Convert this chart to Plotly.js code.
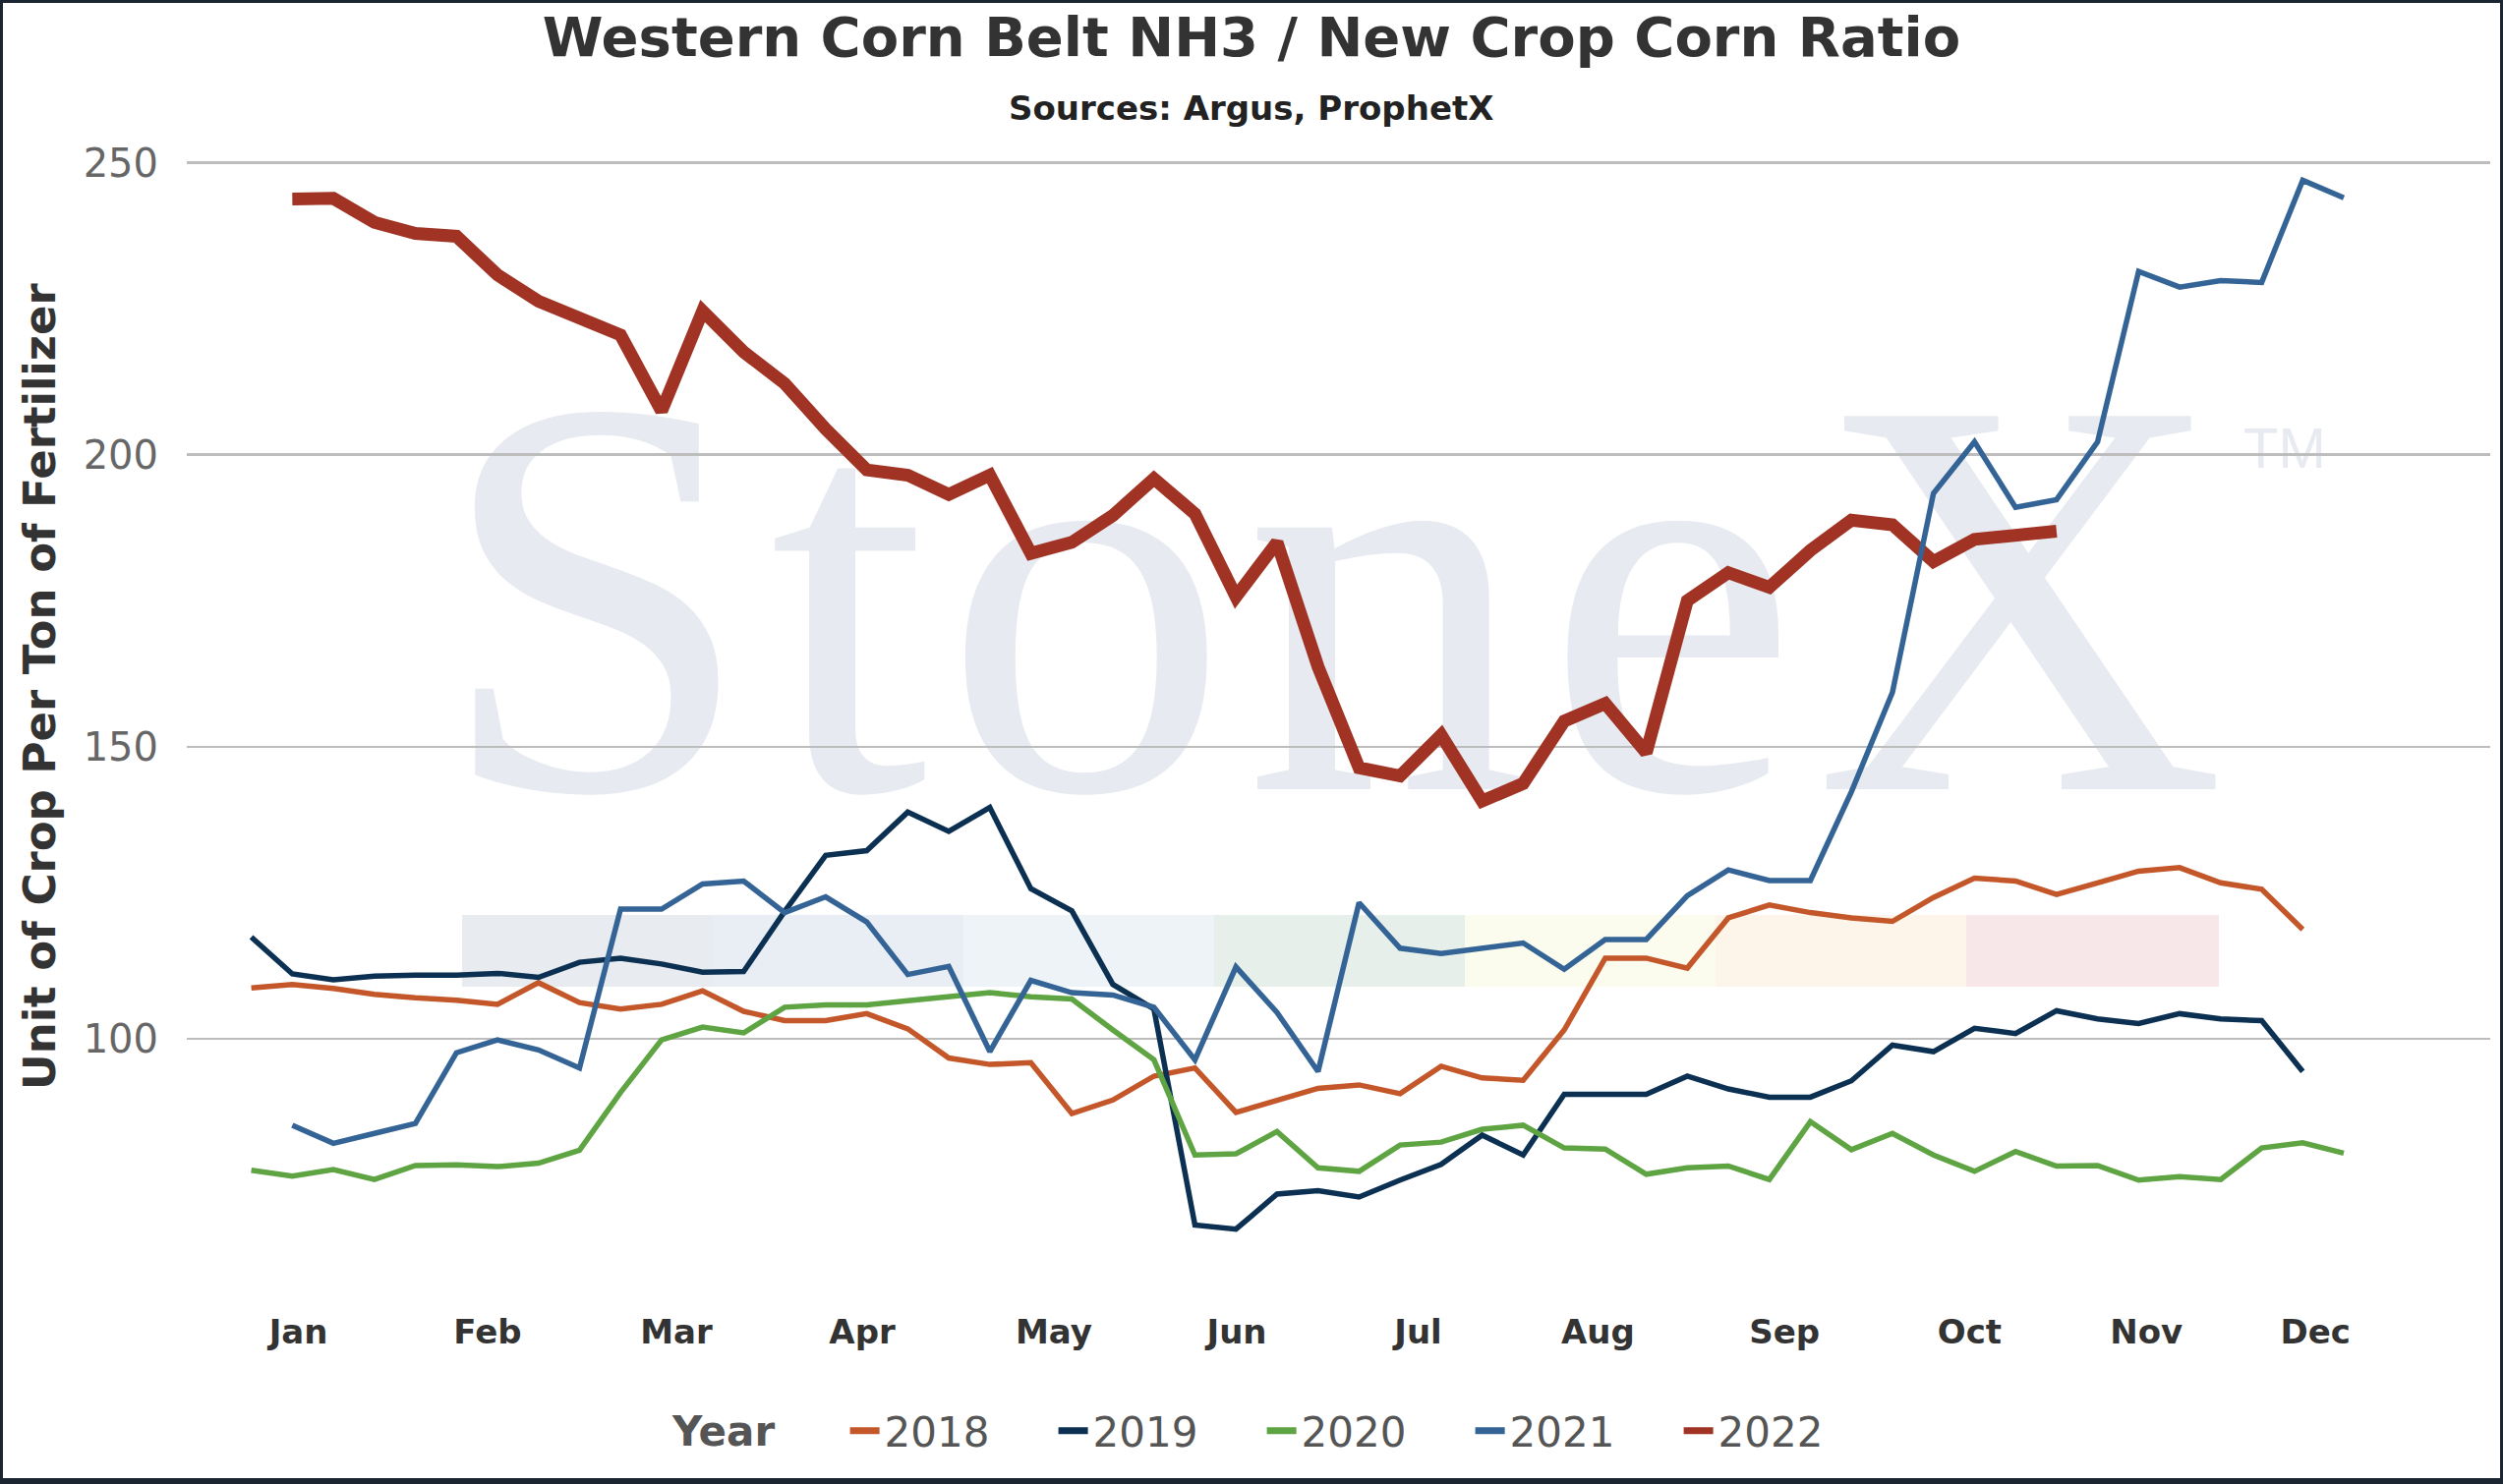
<!DOCTYPE html>
<html>
<head>
<meta charset="utf-8">
<script src="https://cdn.plot.ly/plotly-3.0.1.min.js"></script>
<style>
	html, body { margin: 0; padding: 0; background: #ffffff; }
	#wrap { position: relative; width: 2546px; height: 1510px; overflow: hidden; }
	#mark { position: absolute; left: 0; top: 0; z-index: 0; }
	#chart { position: absolute; left: 0; top: 0; width: 2546px; height: 1510px; z-index: 1; }
	#frame { position: absolute; left: 0; top: 0; width: 2546px; height: 1510px; box-sizing: border-box;
		border: 3px solid #1b2531; border-bottom-width: 6px; z-index: 2; pointer-events: none; }
</style>
</head>
<body>
<div id="wrap">
	<!-- StoneX watermark behind the plot -->
	<svg id="mark" width="2546" height="1510">
		<rect x="470" y="931" width="256" height="73" fill="#e8ebf0"/>
		<rect x="725" y="931" width="256" height="73" fill="#e9eef5"/>
		<rect x="980" y="931" width="256" height="73" fill="#eef3f8"/>
		<rect x="1235" y="931" width="256" height="73" fill="#e6efea"/>
		<rect x="1490" y="931" width="256" height="73" fill="#fbfbee"/>
		<rect x="1745" y="931" width="256" height="73" fill="#fdf5e9"/>
		<rect x="2000" y="931" width="257" height="73" fill="#f8e7e9"/>
		<text x="444" y="803" font-family="Liberation Serif" font-size="580" letter-spacing="16" fill="#e7eaf0">StoneX</text>
		<text x="2282" y="476" font-family="Liberation Sans" font-size="58" fill="#e7eaf0">TM</text>
	</svg>
	<div id="chart"></div>
	<div id="frame"></div>
</div>
<script>
// weekly ratio, one array per year (week 1 = first week of January)
var months = ['Jan', 'Feb', 'Mar', 'Apr', 'May', 'Jun', 'Jul', 'Aug', 'Sep', 'Oct', 'Nov', 'Dec'];
var monthTicks = [2.15, 6.76, 11.36, 15.89, 20.56, 25.02, 29.44, 33.82, 38.37, 42.88, 47.19, 51.31];
var yTicks = [100, 150, 200, 250];

var first2018 = 1;
var y2018 = [108.7, 109.3, 108.6, 107.6, 107.0, 106.6, 105.9, 109.6, 106.2, 105.1, 105.9, 108.2, 104.7,
	103.1, 103.1, 104.3, 101.7, 96.7, 95.6, 95.9, 87.2, 89.5, 93.6, 95.0, 87.4, 89.4, 91.5, 92.1, 90.6,
	95.3, 93.3, 92.9, 101.5, 113.8, 113.8, 112.1, 120.7, 122.9, 121.6, 120.7, 120.1, 124.2, 127.5,
	127.0, 124.7, 126.7, 128.7, 129.3, 126.7, 125.6, 118.7];

var first2019 = 1;
var y2019 = [117.4, 111.1, 110.1, 110.7, 110.9, 110.9, 111.2, 110.5, 113.1, 113.8, 112.8, 111.4, 111.5,
	121.8, 131.4, 132.2, 138.8, 135.5, 139.6, 125.7, 121.9, 109.3, 105.1, 68.1, 67.4, 73.4, 74.0, 72.9,
	75.8, 78.5, 83.5, 80.1, 90.5, 90.5, 90.5, 93.6, 91.4, 90.0, 90.0, 92.8, 98.9, 97.8, 101.8, 100.9,
	104.8, 103.4, 102.6, 104.3, 103.4, 103.1, 94.4];

var first2020 = 1;
var y2020 = [77.5, 76.5, 77.6, 75.9, 78.3, 78.4, 78.1, 78.7, 80.9, 90.8, 99.8, 102.0, 101.0, 105.4,
	105.8, 105.8, 106.5, 107.1, 107.9, 107.2, 106.8, 101.5, 96.4, 80.1, 80.3, 84.1, 77.9, 77.3, 81.8,
	82.3, 84.5, 85.2, 81.3, 81.1, 76.8, 77.9, 78.2, 75.9, 85.8, 81.0, 83.8, 80.1, 77.3, 80.7, 78.2,
	78.3, 75.8, 76.4, 75.9, 81.3, 82.2, 80.4];

var first2021 = 2;
var y2021 = [85.2, 82.1, 83.8, 85.5, 97.6, 99.8, 98.1, 95.0, 122.2, 122.2, 126.5, 127.0, 121.6, 124.3,
	120.0, 111.0, 112.4, 97.8, 110.0, 107.9, 107.5, 105.4, 96.4, 112.3, 104.5, 94.4, 123.3, 115.5,
	114.6, 115.6, 116.4, 111.9, 117.0, 117.0, 124.5, 128.9, 127.1, 127.1, 142.3, 159.3, 193.4, 202.2,
	191.0, 192.3, 202.2, 231.4, 228.7, 229.8, 229.5, 247.0, 244.0];

var first2022 = 2;
var y2022 = [243.8, 243.9, 239.8, 237.9, 237.4, 230.8, 226.3, 223.2, 220.5, 207.5, 224.6, 217.6, 212.2,
	204.4, 197.4, 196.5, 193.2, 196.5, 183.1, 185.0, 189.6, 195.9, 189.9, 175.7, 185.0, 163.7, 146.4,
	145.0, 152.0, 140.7, 143.7, 154.4, 157.4, 149.0, 175.0, 179.8, 177.3, 183.6, 188.8, 188.0, 181.7,
	185.5, 186.1, 186.9];

var colors = {
	'2018': '#c4572a',
	'2019': '#0b3052',
	'2020': '#5fa443',
	'2021': '#346396',
	'2022': '#a03323'
};

function weeksFrom(first, values) {
	return values.map(function (v, i) { return first + i; });
}

function yearLine(name, first, values, width) {
	return {
		x: weeksFrom(first, values),
		y: values,
		name: name,
		mode: 'lines',
		showlegend: false,
		hoverinfo: 'skip',
		line: { color: colors[name], width: width }
	};
}

// legend keys, so every key has the same stroke
function legendKey(name) {
	return {
		x: [null],
		y: [null],
		name: name,
		mode: 'lines',
		line: { color: colors[name], width: 7 }
	};
}

var data = [
	yearLine('2022', first2022, y2022, 13),
	yearLine('2018', first2018, y2018, 5.5),
	yearLine('2019', first2019, y2019, 5.5),
	yearLine('2020', first2020, y2020, 5.5),
	yearLine('2021', first2021, y2021, 5.5),
	legendKey('2018'),
	legendKey('2019'),
	legendKey('2020'),
	legendKey('2021'),
	legendKey('2022')
];

var layout = {
	autosize: false,
	width: 2546,
	height: 1510,
	paper_bgcolor: 'rgba(0,0,0,0)',
	plot_bgcolor: 'rgba(0,0,0,0)',
	margin: { l: 190, r: 13, t: 140, b: 188, pad: 0 },
	font: { family: 'DejaVu Sans', color: '#333333' },
	title: {
		text: '<b>Western Corn Belt NH3 / New Crop Corn Ratio</b>',
		font: { size: 56, color: '#333333' },
		x: 0.5,
		xref: 'container',
		xanchor: 'center',
		y: 0.975,
		yref: 'container',
		yanchor: 'middle'
	},
	xaxis: {
		range: [-0.572, 55.57],
		tickmode: 'array',
		tickvals: monthTicks,
		ticktext: months,
		showgrid: false,
		zeroline: false,
		showline: false,
		ticks: '',
		ticklabelstandoff: 10,
		tickfont: { size: 34, color: '#333333', weight: 'bold' },
		fixedrange: true
	},
	yaxis: {
		range: [55.4, 254.3],
		tickmode: 'array',
		tickvals: yTicks,
		showgrid: true,
		gridcolor: '#bdbdbd',
		gridwidth: 2.5,
		zeroline: false,
		showline: false,
		ticks: '',
		ticklabelstandoff: 28,
		tickfont: { size: 40, color: '#666666' },
		fixedrange: true
	},
	legend: {
		orientation: 'h',
		x: 0.512,
		xanchor: 'center',
		y: -0.1134,
		yanchor: 'middle',
		bgcolor: 'rgba(0,0,0,0)',
		font: { size: 42, color: '#555555' },
		entrywidth: 167,
		entrywidthmode: 'pixels',
		traceorder: 'normal'
	},
	annotations: [
		{
			text: '<b>Sources: Argus, ProphetX</b>',
			xref: 'paper', yref: 'paper',
			x: 0.462, y: 1.0254,
			xanchor: 'center', yanchor: 'middle',
			showarrow: false,
			font: { size: 34, color: '#222222' }
		},
		{
			text: '<b>Unit of Crop Per Ton of Fertilizer</b>',
			xref: 'paper', yref: 'paper',
			x: -0.0636, y: 0.528,
			xanchor: 'center', yanchor: 'middle',
			textangle: -90,
			showarrow: false,
			font: { size: 45, color: '#333333' }
		},
		{
			text: '<b>Year</b>',
			xref: 'paper', yref: 'paper',
			x: 0.233, y: -0.1134,
			xanchor: 'center', yanchor: 'middle',
			showarrow: false,
			font: { size: 42, color: '#555555' }
		}
	],
	showlegend: true
};

Plotly.newPlot('chart', data, layout, { displayModeBar: false, staticPlot: true });
</script>
</body>
</html>
